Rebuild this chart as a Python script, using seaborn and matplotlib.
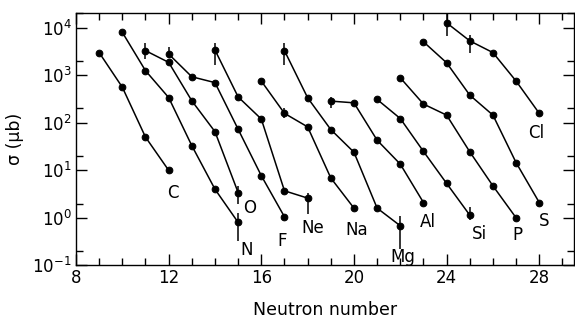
import numpy as np
import pandas as pd
import matplotlib
matplotlib.use("Agg")
import matplotlib.pyplot as plt
from matplotlib.ticker import LogLocator, MultipleLocator, NullFormatter
import seaborn as sns

# ====================
# DATOS
# ====================
elements = ["C", "N", "O", "F", "Ne", "Na", "Mg", "Al", "Si", "P", "S", "Cl"]
n_first = [9, 10, 11, 12, 14, 16, 17, 19, 21, 22, 23, 24]

sigma_C = [3000, 560, 50, 10]
sigma_N = [8000, 1250, 340, 33, 4.0, 0.8]
sigma_O = [3300, 1870, 290, 65, 3.4]
sigma_F = [2800, 930, 700, 73, 7.7, 1.05]
sigma_Ne = [3400, 350, 120, 3.7, 2.6]
sigma_Na = [755, 158, 82, 6.9, 1.6]
sigma_Mg = [3300, 336, 72, 24, 1.6, 0.68]
sigma_Al = [286, 263, 43, 13.5, 2.1]
sigma_Si = [310, 123, 25, 5.3, 1.14]
sigma_P = [885, 248, 145, 24.5, 4.7, 1.0]
sigma_S = [5070, 1830, 382, 145, 14.5, 2.1]
sigma_Cl = [12700, 5300, 3000, 755, 158]

# barras de error (elemento, N, limite inferior, limite superior)
err_el = ["O", "F", "Ne", "O", "N", "Mg", "Na", "Ne", "Al", "Mg", "Si", "Cl", "Cl"]
err_n = [11, 12, 14, 15, 15, 17, 17, 18, 19, 22, 25, 24, 25]
err_lo = [2190, 2270, 1630, 2.0, 0.32, 1650, 125, 1.22, 202, 0.22, 0.9, 6600, 2970]
err_hi = [4730, 3990, 4800, 4.6, 1.24, 4760, 200, 3.3, 352, 1.1, 1.69, 20000, 7100]

# posiciones de las etiquetas
label_x = [12.2, 15.35, 15.5, 16.9, 18.2, 20.1, 22.1, 23.2, 25.4, 27.05, 28.2, 27.85]
label_y = [3.3, 0.21, 1.6, 0.32, 0.6, 0.55, 0.15, 0.82, 0.45, 0.43, 0.87, 60]

all_sigma = [sigma_C, sigma_N, sigma_O, sigma_F, sigma_Ne, sigma_Na,
             sigma_Mg, sigma_Al, sigma_Si, sigma_P, sigma_S, sigma_Cl]

rows = []
for el, n0, sig in zip(elements, n_first, all_sigma):
    for i, s in enumerate(sig):
        rows.append({"element": el, "N": n0 + i, "sigma": s})
df = pd.DataFrame(rows)

# ====================
# ESTILO
# ====================
sns.set_style("ticks")
plt.rcParams["font.family"] = ["DejaVu Sans"]
plt.rcParams["text.color"] = "black"
plt.rcParams["axes.labelcolor"] = "black"
plt.rcParams["xtick.color"] = "black"
plt.rcParams["ytick.color"] = "black"

fig = plt.figure(figsize=(5.75, 3.22), dpi=100)
ax = fig.add_axes([76 / 575, 0.176, 498 / 575, 0.7835])

sns.lineplot(data=df, x="N", y="sigma", units="element", estimator=None,
             color="black", marker="o", markersize=4.8, markeredgecolor="black",
             linewidth=1.1, legend=False, ax=ax)
ax.vlines(err_n, err_lo, err_hi, color="black", linewidth=1.1)

for el, lx, ly in zip(elements, label_x, label_y):
    ax.text(lx, ly, el, ha="center", va="center", fontsize=12, color="black")

ax.set_yscale("log")
ax.set_xlim(8, 29.5)
ax.set_ylim(0.1, 2.04e4)

ax.xaxis.set_major_locator(MultipleLocator(4))
ax.xaxis.set_minor_locator(MultipleLocator(1))
ax.yaxis.set_major_locator(LogLocator(base=10, numticks=10))
ax.yaxis.set_minor_locator(LogLocator(base=10, subs=[2.0], numticks=10))
ax.yaxis.set_minor_formatter(NullFormatter())

ax.tick_params(which="both", direction="in", top=True, right=True, width=1,
               labelsize=12, colors="black")
ax.tick_params(which="major", length=8, pad=3)
ax.tick_params(which="minor", length=5)
for sp in ax.spines.values():
    sp.set_linewidth(1)
    sp.set_color("black")

ax.set_xlabel("Neutron number", fontsize=12.5, labelpad=10)
ax.set_ylabel("σ (μb)", fontsize=12.5, labelpad=6)

fig.savefig("out.png", dpi=100)
